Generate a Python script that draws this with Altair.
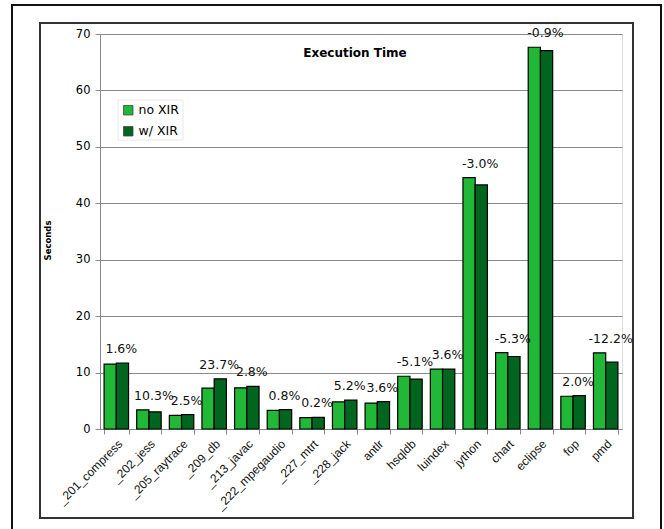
import altair as alt
import pandas as pd

categories = ["_201_compress", "_202_jess", "_205_raytrace", "_209_db", "_213_javac",
              "_222_mpegaudio", "_227_mtrt", "_228_jack", "antlr", "hsqldb", "luindex",
              "jython", "chart", "eclipse", "fop", "pmd"]
series = ["no XIR", "w/ XIR"]
no_xir = [11.5, 3.4, 2.4, 7.25, 7.3, 3.3, 2.0, 4.8, 4.6, 9.35, 10.6, 44.55, 13.55, 67.65, 5.8, 13.5]
w_xir = [11.7, 3.05, 2.55, 8.9, 7.55, 3.45, 2.05, 5.1, 4.85, 8.85, 10.6, 43.25, 12.85, 67.05, 5.92, 11.85]
pct_labels = ["1.6%", "10.3%", "2.5%", "23.7%", "2.8%", "0.8%", "0.2%", "5.2%", "3.6%",
              "-5.1%", "3.6%", "-3.0%", "-5.3%", "-0.9%", "2.0%", "-12.2%"]
y_ticks = [0, 10, 20, 30, 40, 50, 60, 70]
chart_title = "Execution Time"

rows = []
for c, a, b in zip(categories, no_xir, w_xir):
    rows.append({"cat": c, "series": series[0], "value": a})
    rows.append({"cat": c, "series": series[1], "value": b})
bars_df = pd.DataFrame(rows)
lab_df = pd.DataFrame({"cat": categories,
                       "top": [max(a, b) for a, b in zip(no_xir, w_xir)],
                       "label": pct_labels})

FONT = "DejaVu Sans"

x_enc = alt.X("cat:N", sort=categories, title=None,
              scale=alt.Scale(paddingInner=0.25, paddingOuter=0.125),
              axis=alt.Axis(labelAngle=-45, labelAlign="right", labelBaseline="top",
                            labelFont="Liberation Sans", labelFontSize=12, labelColor="#111",
                            labelPadding=4, tickBand="extent", tickSize=5, tickColor="#888",
                            domainColor="#888", grid=False, labelOverlap=False))
y_enc = alt.Y("value:Q", title="Seconds",
              scale=alt.Scale(domain=[0, 70], nice=False),
              axis=alt.Axis(values=y_ticks, labelFont=FONT, labelFontSize=11.5,
                            labelColor="black", tickSize=5, tickColor="#888",
                            domainColor="#888", gridColor="#8a8a8a", gridWidth=1,
                            labelPadding=5, titleFont=FONT, titleFontSize=8.5,
                            titleFontWeight="bold", titleColor="black",
                            titleX=-53, titleY=206, titleAngle=-90,
                            titleAlign="center", titleBaseline="middle"))
xo_enc = alt.XOffset("series:N", sort=series)

one = alt.Data(values=[{"k": 1}])
outer = alt.Chart(one).mark_rect(fill=None, stroke="#111", strokeWidth=2).encode(
    x=alt.value(-88), x2=alt.value(561), y=alt.value(-29), y2=alt.value(520))
inner = alt.Chart(one).mark_rect(fill=None, stroke="#333", strokeWidth=2).encode(
    x=alt.value(-60), x2=alt.value(533), y=alt.value(-11), y2=alt.value(484))
legend_box = alt.Chart(one).mark_rect(fill="white", stroke="#e8e8e8", strokeWidth=1).encode(
    x=alt.value(18), x2=alt.value(83), y=alt.value(66), y2=alt.value(106))

title_mark = alt.Chart(alt.Data(values=[{"t": chart_title}])).mark_text(
    font=FONT, fontSize=12, fontWeight="bold", color="black",
    align="center", baseline="middle").encode(
    x=alt.value(255), y=alt.value(19), text="t:N")

shadow = alt.Chart(bars_df).mark_bar(color="#a0a0a0", xOffset=3, x2Offset=3,
                                     yOffset=3, y2Offset=3, clip=True).encode(
    x=x_enc, xOffset=xo_enc, y=y_enc)

bars = alt.Chart(bars_df).mark_bar(stroke="black", strokeWidth=1.2).encode(
    x=x_enc, xOffset=xo_enc, y=y_enc,
    color=alt.Color("series:N", sort=series, title=None,
                    scale=alt.Scale(domain=series, range=["#22B837", "#00661F"]),
                    legend=alt.Legend(orient="none", legendX=18, legendY=66,
                                      padding=4, symbolType="square",
                                      symbolSize=90, symbolStrokeColor="#444",
                                      symbolStrokeWidth=0.8, labelFont=FONT,
                                      labelFontSize=12.5, labelColor="black",
                                      labelOffset=4, rowPadding=7)))

labels = alt.Chart(lab_df).mark_text(font=FONT, fontSize=12.5, color="#111",
                                     dx=5, dy=-10, baseline="alphabetic").encode(
    x=alt.X("cat:N", sort=categories), y=alt.Y("top:Q"), text="label:N")

chart = alt.layer(outer, inner, title_mark, legend_box, shadow, bars, labels).properties(
    width=522, height=395,
    autosize=alt.AutoSizeParams(type="none"),
    padding={"left": 100, "top": 34, "right": 42, "bottom": 100},
).configure_view(fill="#cccccc", stroke="#a8a8a8").configure(background="white")

chart.save("out.html", embed_options={"renderer": "svg", "actions": False})
